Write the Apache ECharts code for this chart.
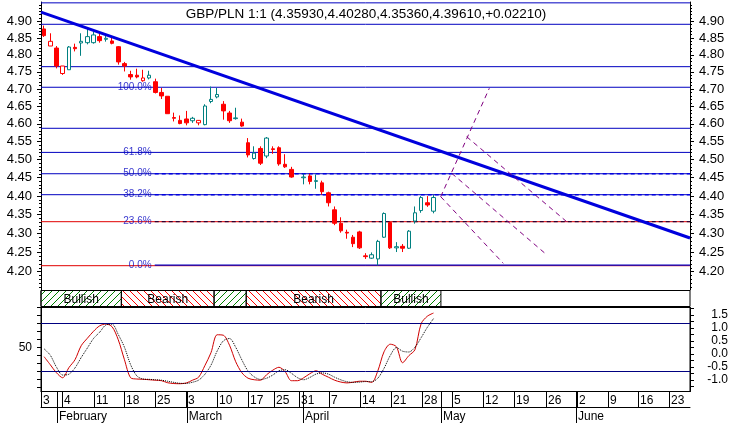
<!DOCTYPE html>
<html><head><meta charset="utf-8">
<script src="https://cdn.jsdelivr.net/npm/echarts@6/dist/echarts.min.js"></script>
<style>html,body{margin:0;padding:0;background:#fff}#c{width:732px;height:423px}</style>
</head><body><div id="c"></div><script>
const FONT = 'Liberation Sans, Arial, sans-serif';
const N_SLOTS = 105;
const titleText = 'GBP/PLN 1:1 (4.35930,4.40280,4.35360,4.39610,+0.02210)';

// OHLC per trading slot (null = no candle)
const openVals  = [4.877,4.826,4.820,4.745,4.756,4.822,4.835,4.836,4.836,4.854,4.846,4.841,4.824,4.774,4.742,4.740,4.724,4.732,4.721,4.690,4.679,4.618,4.610,4.614,4.609,4.603,4.598,4.664,4.677,4.656,4.631,4.615,4.605,4.547,4.503,4.531,4.510,4.530,4.533,4.487,4.473,null,4.450,4.455,4.440,4.436,4.409,4.363,4.327,4.303,4.290,4.304,4.241,4.235,4.233,4.290,4.329,4.262,4.266,4.261,4.333,4.361,4.382,4.3593];
const closeVals = [4.857,4.840,4.767,4.767,4.823,4.818,4.840,4.854,4.859,4.842,4.849,4.834,4.779,4.767,4.735,4.735,4.732,4.740,4.690,4.680,4.629,4.616,4.601,4.603,4.616,4.610,4.651,4.670,4.684,4.637,4.609,4.617,4.594,4.513,4.518,4.490,4.560,4.528,4.488,4.480,4.452,null,4.452,4.440,4.442,4.412,4.382,4.327,4.307,4.301,4.273,4.262,4.239,4.244,4.279,4.353,4.262,4.265,4.261,4.306,4.355,4.396,4.376,4.3961];
const lowVals   = [4.853,4.826,4.760,4.741,4.756,4.810,4.797,4.831,4.833,4.836,4.839,4.831,4.771,4.751,4.727,4.731,4.721,4.728,4.687,4.671,4.629,4.607,4.599,4.596,4.603,4.596,4.596,4.659,4.673,4.612,4.603,4.612,4.592,4.506,4.500,4.485,4.504,4.516,4.483,4.477,4.450,null,4.432,4.432,4.420,4.404,4.372,4.322,4.302,4.286,4.264,4.259,4.233,4.233,4.216,4.288,4.259,4.251,4.251,4.259,4.326,4.355,4.371,4.3536];
const highVals  = [4.887,4.864,4.826,4.767,4.826,4.833,4.864,4.879,4.869,4.864,4.861,4.850,4.826,4.779,4.753,4.759,4.756,4.753,4.730,4.703,4.679,4.632,4.624,4.637,4.620,4.611,4.656,4.707,4.703,4.665,4.637,4.646,4.615,4.560,4.537,4.537,4.563,4.537,4.537,4.515,4.480,null,4.461,4.461,4.459,4.442,4.412,4.372,4.343,4.310,4.296,4.307,4.248,4.250,4.283,4.356,4.331,4.277,4.272,4.309,4.372,4.400,4.400,4.4028];
// R = red filled, r = red hollow, G = teal hollow
const candleStyle = 'RrRrGRGGGRGRRRRRrGRRRRRRGrGGGRRGRRGRGRRRR_GRGRRRRRRRRGGGRGRGGGRG';

const stochK = [38.1,28.0,17.9,11.6,24.2,34.3,51.9,61.3,70.1,77.0,79.2,75.8,59.4,34.3,11.6,10.0,9.7,9.1,8.5,7.9,5.3,4.3,4.1,5.0,8.5,12.3,26.7,43.1,65.7,65.1,52.5,31.8,17.9,11.0,9.1,8.5,15.4,21.1,24.8,19.2,7.9,7.9,11.6,16.7,20.4,16.0,12.3,8.5,6.2,5.1,6.0,7.2,7.2,5.7,20.4,44.3,53.8,50.6,30.5,39.3,46.9,79.6,89.0,93.0];
const stochD = [48,40,25,15,16,24,37,49,61,69,78,79,66,50,28,14,10,9.6,9.1,8.5,7.2,5.8,4.6,4.5,5.9,8.6,15.8,27.4,45.2,58,61,50,34,20,12.7,9.5,11,15,20.4,21.7,17.3,11.7,9.1,12,16.2,17.7,16.2,12.3,9,6.6,5.8,6.1,6.8,6.7,11.1,23.5,39.5,49.6,45,44,50,62,75,86];

const priceTicks = [4.20,4.25,4.30,4.35,4.40,4.45,4.50,4.55,4.60,4.65,4.70,4.75,4.80,4.85,4.90];
const priceMin = 4.1528, priceMax = 4.9586;

const blueLevels = [4.9560,4.891,4.765,4.705,4.5876,4.520,4.461,4.4038];
const redLevels = [4.3312,4.2154];
const fibLevels = [4.705,4.520,4.461,4.4038,4.3312,4.2154];
const fibLabels = ['100.0%','61.8%','50.0%','38.2%','23.6%','0.0%'];
const fibLabelAt = 17.4;
const fibStart = 17.9;
const fibDashBlue = [4.461,4.4038];
const fibDashDark = [4.3312];
const fibSolidBlue = [4.2168];

const trendLine = [[-0.5,4.928],[104.5,4.2879]];
const fanLines = [
  [[64.17,4.3984],[72.03,4.702]],
  [[64.17,4.3984],[74.29,4.2216]],
  [[65.95,4.4621],[81.04,4.2477]],
  [[68.37,4.5639],[84.55,4.3312]]
];

const bandStart = [-0.5,12.5,27.5,32.7,54.5];
const bandEnd   = [12.5,27.5,32.7,54.5,64.2];
const bandType  = ['bull','bear','bull','bear','bull'];
const bandText  = ['Bullish','Bearish','','Bearish','Bullish'];

const weekTickIdx = [-0.5,2.9,8.07,12.93,17.94,22.96,27.97,32.99,37.2,41.24,46.09,51.11,56.13,61.14,66.0,71.01,76.03,81.21,86.22,91.24,96.09,101.11];
const weekLabels  = ['3','4','11','18','25','3','10','17','25','31','7','14','21','28','5','12','19','26','2','9','16','23'];
const monthTickIdx = [2.09,23.1,41.9,64.2,86.06];
const monthLabels  = ['February','March','April','May','June'];

const oscLevels = [80,20];
const oscLeftTicks = [0,10,20,30,40,50,60,70,80,90,100];
const oscLeftLabels = [50];
const oscRightLabels = [-1.0,-0.5,0.0,0.5,1.0,1.5];
const oscRightTicks = [-1.25,-1.0,-0.75,-0.5,-0.25,0,0.25,0.5,0.75,1.0,1.25,1.5,1.75];

// ---------- build ----------
const L = Math.log;
const BLUE = '#0000c0', RED = '#e00000';
const categories = Array.from({length:N_SLOTS},(_,i)=>String(i));
const STY = {R:{f:'#ff0000',s:'#ff0000'}, r:{f:'#ffffff',s:'#ff0000'}, G:{f:'#ffffff',s:'#008080'}};
const candleData = categories.map((_,i)=>{
  if (i>=openVals.length || openVals[i]==null) return {value:['-','-','-','-']};
  const s = STY[candleStyle[i]];
  return {value:[L(openVals[i]),L(closeVals[i]),L(lowVals[i]),L(highVals[i])],
    itemStyle:{color:s.f,color0:s.f,borderColor:s.s,borderColor0:s.s,borderColorDoji:s.s,borderWidth:1}};
});
const minorTicks = []; for (let k=416;k<=495;k++) minorTicks.push(L(k/100));
const labelLookup = (arr, labs) => v => { for (let k=0;k<arr.length;k++) if (Math.abs(arr[k]-v)<1e-6) return labs[k]; return ''; };

function hatch(color, forward){
  const s=7, c=document.createElement('canvas'); c.width=s; c.height=s;
  const g=c.getContext('2d'); g.strokeStyle=color; g.lineWidth=1; g.beginPath();
  if (forward){ g.moveTo(0,s); g.lineTo(s,0); g.moveTo(-1,1); g.lineTo(1,-1); g.moveTo(s-1,s+1); g.lineTo(s+1,s-1); }
  else { g.moveTo(0,0); g.lineTo(s,s); g.moveTo(s-1,-1); g.lineTo(s+1,1); g.moveTo(-1,s-1); g.lineTo(1,s+1); }
  g.stroke(); return {image:c, repeat:'repeat'};
}
const bullPat = hatch('#008000', true), bearPat = hatch('#ff0000', false);

const txt = {color:'#000', fontFamily:FONT};
const yMain = (pos, major) => ({
  type:'value', gridIndex:0, position:pos, min:L(priceMin), max:L(priceMax),
  axisLine:{show:major, onZero:false, lineStyle:{color:'#000'}},
  axisTick:{show:true, length: major?4:2, customValues: major? priceTicks.map(L) : minorTicks, lineStyle:{color:'#000'}},
  axisLabel:{show:major, customValues: priceTicks.map(L), formatter:v=>Math.exp(v).toFixed(2), margin:9, fontSize:13, ...txt},
  splitLine:{show:false}
});
const seg = (pts) => pts.map(p=>[p[0], L(p[1])]);
const hSeries = (p, color, x0) => ({type:'line', xAxisIndex:1, yAxisIndex:0, symbol:'none', z:1, silent:true,
  data:seg([[x0,p],[104.5,p]]), lineStyle:{color, width:1, type:'solid'}});

const series = [
  ...blueLevels.map(p=>hSeries(p, BLUE, -0.5)),
  ...redLevels.map(p=>hSeries(p, RED, -0.5)),
  ...fibDashBlue.map(p=>({type:'line', xAxisIndex:1, yAxisIndex:0, symbol:'none', z:2, data:seg([[fibStart,p],[104.5,p]]), lineStyle:{color:'#0000e0', width:1.5, type:[4,3]}})),
  ...fibDashDark.map(p=>({type:'line', xAxisIndex:1, yAxisIndex:0, symbol:'none', z:2, data:seg([[fibStart,p],[104.5,p]]), lineStyle:{color:'#300030', width:1.2, type:[4,3]}})),
  ...fibSolidBlue.map(p=>({type:'line', xAxisIndex:1, yAxisIndex:0, symbol:'none', z:2, data:seg([[fibStart,p],[104.5,p]]), lineStyle:{color:'#0000c0', width:1.2}})),
  {type:'candlestick', xAxisIndex:0, yAxisIndex:0, barWidth:4, data:candleData, z:3},
  {type:'line', xAxisIndex:1, yAxisIndex:0, symbol:'none', z:4, data:seg(trendLine), lineStyle:{color:'#0000dd', width:3}},
  ...fanLines.map(f=>({type:'line', xAxisIndex:1, yAxisIndex:0, symbol:'none', z:4, data:seg(f), lineStyle:{color:'#800080', width:1, type:[5,4]}})),
  {type:'scatter', xAxisIndex:1, yAxisIndex:0, symbolSize:0, z:5, data:fibLevels.map(p=>[fibLabelAt, L(p)]),
   label:{show:true, position:'left', distance:0, formatter:p=>fibLabels[p.dataIndex], fontSize:10, color:'#0000c0', fontFamily:FONT}},
  {type:'custom', xAxisIndex:2, yAxisIndex:4, data:bandStart.map((s,i)=>[s,bandEnd[i]]),
   renderItem:(params, api)=>{
     const i=params.dataIndex, a=api.coord([api.value(0),1]), b=api.coord([api.value(1),0]);
     return {type:'group', children:[
       {type:'rect', shape:{x:a[0], y:a[1], width:b[0]-a[0], height:b[1]-a[1]}, style:{fill: bandType[i]==='bull'?bullPat:bearPat, stroke:'#000', lineWidth:1}},
       {type:'text', style:{text:bandText[i], x:(a[0]+b[0])/2, y:(a[1]+b[1])/2+1, align:'center', verticalAlign:'middle', fontSize:12, fontFamily:FONT, fill:'#000'}}
     ]};
   }},
  {type:'line', xAxisIndex:3, yAxisIndex:5, symbol:'none', smooth:0.3, data:stochK.map((v,i)=>[i,v]), lineStyle:{color:'#d00000', width:1}, z:3,
   markLine:{silent:true, symbol:'none', label:{show:false}, animation:false, lineStyle:{color:'#000080', width:1, type:'solid'},
     data:oscLevels.map(v=>({yAxis:v, lineStyle:{color:'#000080', width:1, type:'solid'}}))}},
  {type:'line', xAxisIndex:3, yAxisIndex:5, symbol:'none', smooth:0.3, data:stochD.map((v,i)=>[i,v]), lineStyle:{color:'#000', width:1, type:'dotted'}, z:3}
];

const xVal = (grid, extra) => Object.assign({type:'value', gridIndex:grid, min:-0.5, max:104.5, show:false, splitLine:{show:false}}, extra||{});
const option = {
  animation:false,
  backgroundColor:'#fff',
  title:{text:titleText, left:'center', top:2, textStyle:{fontSize:13.5, fontWeight:'normal', ...txt}},
  grid:[
    {left:41, right:42, top:2, height:288},
    {left:41, right:42, top:290.5, height:16, show:true, borderColor:'#000', borderWidth:1, backgroundColor:'transparent'},
    {left:41, right:42, top:307.5, height:84, show:true, borderColor:'#000', borderWidth:1, backgroundColor:'transparent'}
  ],
  xAxis:[
    {type:'category', gridIndex:0, data:categories, boundaryGap:true, show:false},
    xVal(0),
    xVal(1),
    xVal(2, {show:true, position:'bottom',
      axisLine:{show:true, onZero:false, lineStyle:{color:'#000'}},
      axisTick:{show:true, length:16, customValues:weekTickIdx, lineStyle:{color:'#000'}},
      axisLabel:{show:true, customValues:weekTickIdx, formatter:labelLookup(weekTickIdx,weekLabels), align:'left', margin:3, padding:[0,0,0,2], fontSize:12, ...txt}}),
    xVal(2, {show:true, position:'bottom',
      axisLine:{show:false, onZero:false},
      axisTick:{show:true, length:32, customValues:monthTickIdx, lineStyle:{color:'#000'}},
      axisLabel:{show:true, customValues:monthTickIdx, formatter:labelLookup(monthTickIdx,monthLabels), align:'left', margin:19, padding:[0,0,0,2], fontSize:12, ...txt}}),
    xVal(2, {show:true, position:'bottom', offset:16,
      axisLine:{show:true, onZero:false, lineStyle:{color:'#000'}}, axisTick:{show:false}, axisLabel:{show:false}})
  ],
  yAxis:[
    yMain('left', true), yMain('left', false), yMain('right', true), yMain('right', false),
    {type:'value', gridIndex:1, min:0, max:1, show:false},
    {type:'value', gridIndex:2, position:'left', min:-5.7, max:100,
      axisLine:{show:true, onZero:false, lineStyle:{color:'#000'}},
      axisTick:{show:true, length:4, customValues:oscLeftTicks, lineStyle:{color:'#000'}},
      axisLabel:{show:true, customValues:oscLeftLabels, margin:9, fontSize:12, ...txt}, splitLine:{show:false}},
    {type:'value', gridIndex:2, position:'right', min:-1.449, max:1.797,
      axisLine:{show:true, onZero:false, lineStyle:{color:'#000'}},
      axisTick:{show:true, length:4, customValues:oscRightTicks, lineStyle:{color:'#000'}},
      axisLabel:{show:true, customValues:oscRightLabels, formatter:v=>v.toFixed(1), align:'right', margin:38, fontSize:12, ...txt}, splitLine:{show:false}}
  ],
  series
};
const chart = echarts.init(document.getElementById('c'), null, {renderer:'canvas'});
chart.setOption(option);
</script></body></html>
